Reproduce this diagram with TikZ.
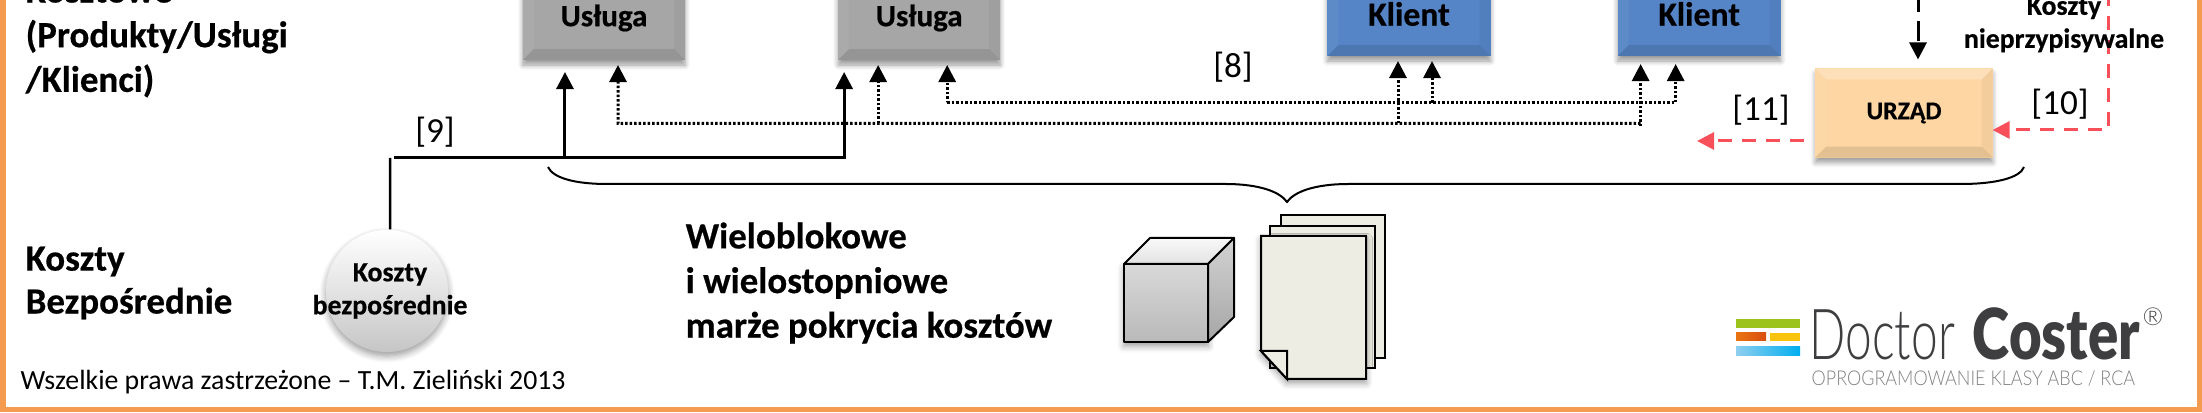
\documentclass[tikz,border=0pt]{standalone}
\usepackage{fontspec}
\setmainfont[BoldFeatures={FakeBold=0.5}]{Carlito}
\newfontfamily\logothin[FakeStretch=0.68]{Lato Light}
\newfontfamily\logotag[FakeStretch=0.88]{Lato Light}
\newfontfamily\logoreg{Lato Light}
\newfontfamily\logobold[FakeStretch=0.8]{Lato Black}
\usepackage{xcolor}
\usetikzlibrary{positioning, arrows.meta, calc, shadows.blur}
\definecolor{dcFrame}{HTML}{F59B4F}
\definecolor{dcGray}{HTML}{A6A6A6}
\definecolor{dcBlue}{HTML}{5585C6}
\definecolor{dcPeach}{HTML}{FDD6A3}
\definecolor{dcRed}{HTML}{F8505A}
\definecolor{dcPage}{HTML}{EEEDE3}
\definecolor{dcLogo}{HTML}{3E3D40}
\definecolor{dcBarGreen}{HTML}{9BC31C}
\definecolor{dcBarOrange}{HTML}{E87511}
\definecolor{dcBarRed}{HTML}{D94E0E}
\definecolor{dcBarYellow}{HTML}{F8C40E}
\definecolor{dcBarSky}{HTML}{8FCFEF}
\definecolor{dcBarCyan}{HTML}{00AEEF}

\begin{document}
\begin{tikzpicture}[
    x=0.01cm, y=-0.01cm,
    bevel/.style={path picture={
        \coordinate (bnw) at (path picture bounding box.north west);
        \coordinate (bne) at (path picture bounding box.north east);
        \coordinate (bsw) at (path picture bounding box.south west);
        \coordinate (bse) at (path picture bounding box.south east);
        \fill[white, opacity=.25] (bnw) -- (bne) -- ([shift={(-11,11)}]bne) -- ([shift={(11,11)}]bnw) -- cycle;
        \fill[black, opacity=.1] (bsw) -- (bse) -- ([shift={(-11,-11)}]bse) -- ([shift={(11,-11)}]bsw) -- cycle;
        \fill[white, opacity=.05] (bnw) -- (bsw) -- ([shift={(11,-11)}]bsw) -- ([shift={(11,11)}]bnw) -- cycle;
        \fill[black, opacity=.04] (bne) -- (bse) -- ([shift={(-11,-11)}]bse) -- ([shift={(-11,11)}]bne) -- cycle;
    }},
    box/.style={bevel, blur shadow={shadow xshift=0cm, shadow yshift=-.05cm, shadow blur steps=6, shadow blur radius=.05cm},
                inner sep=0pt, outer sep=0pt, align=center},
    grayblock/.style={box, fill=dcGray, minimum width=1.62cm, minimum height=.84cm, font=\fontsize{8.8}{10}\selectfont\bfseries},
    blueblock/.style={box, fill=dcBlue, minimum width=1.63cm, minimum height=.84cm, font=\fontsize{9.6}{11}\selectfont\bfseries},
    office/.style={box, fill=dcPeach, minimum width=1.77cm, minimum height=.89cm, font=\fontsize{7.3}{9}\selectfont\bfseries},
    heading/.style={inner sep=0pt, align=left, anchor=west, font=\fontsize{10.5}{12.7}\selectfont\bfseries},
    small/.style={inner sep=0pt, align=center, font=\fontsize{7.9}{9.4}\selectfont\bfseries},
    ref/.style={inner sep=0pt, font=\fontsize{10}{12}\selectfont},
    direct/.style={-{Triangle[length=.17cm, width=.17cm]}, line width=.03cm, black, shorten >=.12cm},
    alloc/.style={-{Triangle[length=.17cm, width=.17cm]}, line width=.03cm, black, dash pattern=on .025cm off .02cm, shorten >=.05cm},
    pool/.style={-{Triangle[length=.17cm, width=.17cm]}, line width=.03cm, black, dash pattern=on .2cm off .09cm, shorten >=.09cm},
    rdash/.style={-{Triangle[length=.17cm, width=.17cm]}, line width=.03cm, dcRed, dash pattern=on .14cm off .1cm},
    sheet/.style={draw=black, line width=.02cm, fill=dcPage},
    cubeside/.style={draw=black, line width=.02cm, line join=round},
]
\clip (0,0) rectangle (2202,413);

% --- Frame ---
\draw[dcFrame, line width=.05cm] (3,-20) rectangle (2199,410);

% --- Left headings ---
\node[heading] (hCost) at (25,38) {Kosztowe\\(Produkty/Usługi\\/Klienci)};
\node[heading, font=\fontsize{10.5}{12.2}\selectfont\bfseries] (hDirect) at (25,283) {Koszty\\Bezpośrednie};
\node[inner sep=0pt, anchor=west, font=\fontsize{7.9}{10}\selectfont] (rights) at (20,382) {Wszelkie prawa zastrzeżone -- T.M. Zieliński 2013};

% --- Service and client blocks ---
\node[grayblock] (uslA) at (604,18) {Usługa};
\node[grayblock, right=1.53cm of uslA] (uslB) {Usługa};
\node[blueblock] (klA) at (1409,14) {Klient};
\node[blueblock, right=1.27cm of klA] (klB) {Klient};
\node[office] (urzad) at (1904,113) {URZĄD};

% --- Direct costs ---
\node[circle, minimum size=1.22cm, inner sep=0pt, top color=white, bottom color=gray!45, middle color=gray!22,
      blur shadow={shadow xshift=0cm, shadow yshift=-.04cm, shadow blur steps=6}] (koszty) at (387,291) {};
\node[small, xshift=.03cm] (kosztyText) at (koszty) {Koszty\\bezpośrednie};

\coordinate (bus9) at (390,158);
\draw[line width=.025cm] ([xshift=.03cm]koszty.north) -- (bus9);
\draw[direct] ([xshift=.04cm]bus9) -| ([xshift=-.75cm]uslB.south);
\draw[direct] ([xshift=-.39cm]uslA.south |- bus9) -- ([xshift=-.39cm]uslA.south);
\node[ref, above=.1cm of bus9, xshift=.45cm] (ref9) {[9]};

% --- Dotted allocation lines ---
\coordinate (busLow) at (618,123.5);
\coordinate (busUp) at (947,103);
\draw[alloc] ([xshift=-.585cm,yshift=-.03cm]klB.south |- busLow) -| ([xshift=-.585cm,yshift=-.03cm]klB.south);
\draw[alloc] ([xshift=-.585cm]klB.south |- busLow) -- (busLow) -- ([xshift=.14cm]uslA.south);
\draw[alloc] ([xshift=-.41cm]uslB.south |- busLow) -- ([xshift=-.41cm]uslB.south);
\draw[alloc] ([xshift=-.11cm]klA.south |- busLow) -- ([xshift=-.11cm]klA.south);
\draw[alloc] (busUp) -| ([xshift=.28cm]uslB.south);
\draw[alloc] (busUp) -| ([xshift=-.235cm,yshift=-.03cm]klB.south);
\draw[alloc] ([xshift=.23cm]klA.south |- busUp) -- ([xshift=.23cm]klA.south);
\node[ref] (ref8) at (1233,67) {[8]};

% --- Unassignable costs and the office ---
\coordinate (poolIn) at (1918,-8);
\coordinate (redIn) at (2108,-8);
\coordinate (redCorner) at (2108,130);
\coordinate (redOut) at (1697,141);
\draw[pool] (poolIn) -- (poolIn |- urzad.north);
\draw[rdash] (redIn) -- (redCorner) -- (redCorner -| urzad.east);
\draw[rdash, shorten <=.11cm] (redOut -| urzad.west) -- (redOut);
\node[small] (nieprzyp) at (2064,24.5) {Koszty\\nieprzypisywalne};
\node[ref] (ref10) at (2060,104) {[10]};
\node[ref] (ref11) at (1761,110) {[11]};

% --- Brace ---
\draw[line width=.02cm] (548,167) .. controls (553,178) and (575,184) .. (607,184) -- (1225,184)
    .. controls (1260,184) and (1280,192) .. (1287,202) .. controls (1294,192) and (1314,184) .. (1349,184)
    -- (1961,184) .. controls (1995,184) and (2020,178) .. (2024,167);

% --- Multi-level margins ---
\node[heading] (marze) at (685,283) {Wieloblokowe\\i wielostopniowe\\marże pokrycia kosztów};

% --- Cube ---
\path[cubeside, top color=gray!30, bottom color=gray!55,
      blur shadow={shadow xshift=0cm, shadow yshift=-.04cm, shadow blur steps=5}] (1124,264) rectangle (1208,342);
\path[cubeside, top color=gray!5, bottom color=gray!22] (1124,264) -- (1150,238) -- (1234,238) -- (1208,264) -- cycle;
\path[cubeside, top color=gray!35, bottom color=gray!70] (1208,264) -- (1234,238) -- (1234,317) -- (1208,342) -- cycle;

% --- Stack of pages ---
\draw[sheet] (1281,215) rectangle (1385,358);
\draw[sheet] (1270,226) rectangle (1375,368);
\draw[sheet, blur shadow={shadow xshift=0cm, shadow yshift=-.04cm, shadow blur steps=5}]
    (1261,236) -- (1366,236) -- (1366,379) -- (1287,379) -- (1261,351) -- cycle;
\draw[sheet] (1261,351) -- (1287,351) -- (1287,379) -- cycle;

% --- Logo ---
\fill[dcBarGreen] (1736,319) rectangle (1800,328);
\path[left color=dcBarOrange, right color=dcBarRed] (1736,333) rectangle (1766,341);
\fill[dcBarYellow] (1770,333) rectangle (1800,341);
\path[left color=dcBarSky, right color=dcBarCyan] (1736,347) rectangle (1800,356);
\node[inner sep=0pt, anchor=base west, text=dcLogo, font=\fontsize{20}{22}\logothin] (doctor) at (1809,360) {Doctor};
\node[inner sep=0pt, anchor=base west, text=dcLogo, font=\fontsize{20}{22}\logobold] (coster) at (1972,360) {Coster};
\node[inner sep=0pt, text=dcLogo, font=\fontsize{7}{8}\logoreg] (regd) at (2153,317) {®};
\node[inner sep=0pt, anchor=west, text=gray, font=\fontsize{5.8}{7}\logotag] (tagline) at (1811,379) {OPROGRAMOWANIE KLASY ABC / RCA};
\end{tikzpicture}
\end{document}
